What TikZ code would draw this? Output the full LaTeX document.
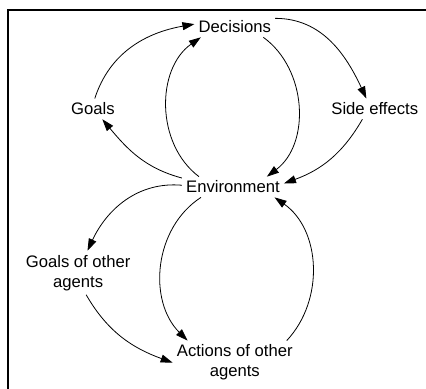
\documentclass[tikz,border=0pt]{standalone}
\usepackage{fontspec}
\setmainfont{Liberation Sans}
\usetikzlibrary{arrows.meta}

\tikzstyle{concepto}= [rectangle,inner sep=3pt,align=center,font=\fontsize{12.5}{15}\selectfont]
\tikzstyle{flecha}= [black,line width=0.6pt,-{Triangle[length=9pt,width=6pt]}]

\begin{document}
\begin{tikzpicture}
		\useasboundingbox (0,0) rectangle (11.23,10.25);
		\draw[line width=1.5pt] (0.21,0) -- (0.21,9.99) -- (11.23,9.99);

		\node (dec) at (6.19,9.54) [concepto] {Decisions};
		\node (goals) at (2.45,7.38) [concepto] {Goals};
		\node (side) at (9.88,7.38) [concepto] {Side effects};
		\node (env) at (6.14,5.32) [concepto] {Environment};
		\node (ogoals) at (2.06,3.06) [concepto] {Goals of other\\agents};
		\node (oact) at (6.19,0.69) [concepto] {Actions of other\\agents};

		\path[flecha] (goals.80) edge[out=72,in=190] (dec.176);
		\path[flecha] (env.163) edge[out=143,in=215] (dec.197);
		\path[flecha] (dec.340) edge[out=-36,in=37] (env.17);
		\path[flecha] (dec.12) edge[out=0,in=115] (side.129);
		\path[flecha] (side.220) edge[out=240,in=20] (env.4);
		\path[flecha] (env.170) edge[out=165,in=310] (goals.312);

		\path[flecha] (env.178) edge[out=175,in=65] (ogoals.67);
		\path[flecha] (env.198) edge[out=213,in=135] (oact.155);
		\path[flecha] (oact.23) edge[out=47,in=-35] (env.346);
		\path[flecha] (ogoals.290) edge[out=-60,in=160] (oact.180);
\end{tikzpicture}
\end{document}
